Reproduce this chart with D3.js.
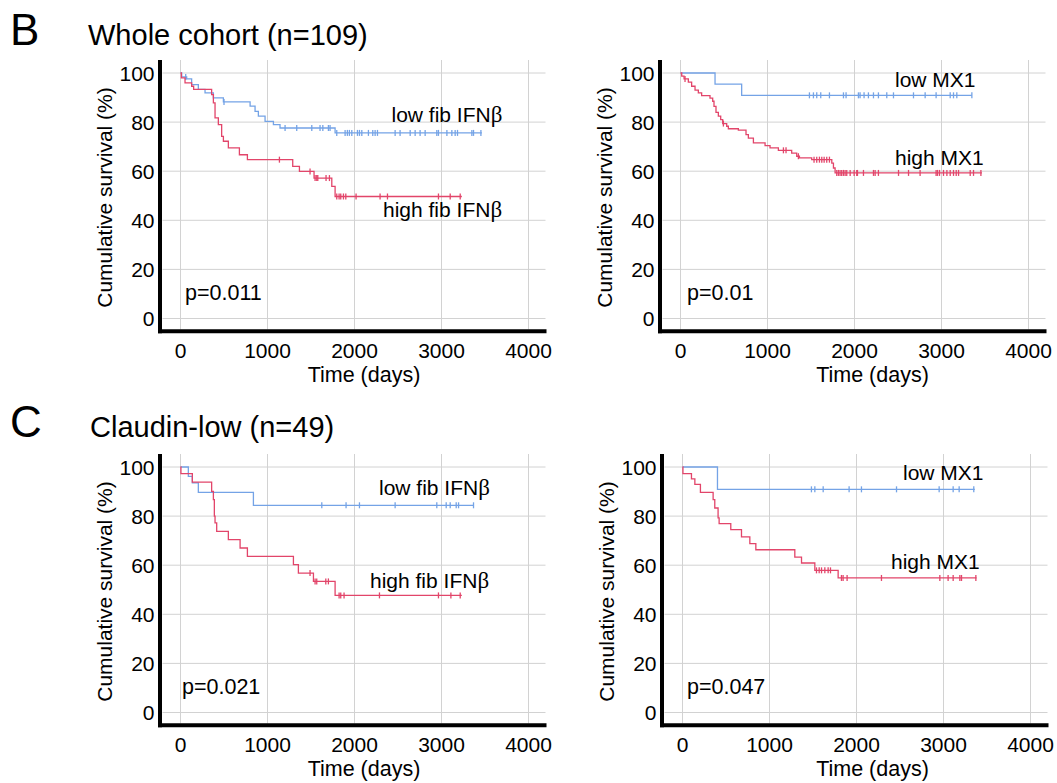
<!DOCTYPE html>
<html>
<head>
<meta charset="utf-8">
<script src="https://cdn.jsdelivr.net/npm/d3@7"></script>
<style>
  body { margin: 0; background: #fff; }
  svg { display: block; font-family: Arial, "Liberation Sans", sans-serif; }
</style>
</head>
<body>
<svg id="chart" width="1057" height="783"></svg>
<script>
// axis ticks
const xTicks = [0, 1000, 2000, 3000, 4000];
const yTicks = [0, 20, 40, 60, 80, 100];

// B, whole cohort, fibroblast IFNb
const lowFibT = [14, 71, 128, 205, 282, 378, 493, 800, 857, 895, 972, 1068, 1144, 1777];
const lowFibS = [98.4, 97.6, 95.3, 93.3, 91.9, 89.9, 88.2, 86.5, 84.4, 82.4, 80.3, 79.0, 77.6, 75.6];
const lowFibEnd = 3464;
const lowFibCens = [60, 500, 1202, 1336, 1509, 1604, 1636, 1700, 1719, 1796, 1892, 1918, 1941, 1969, 2034, 2057, 2084, 2160, 2210, 2237, 2264, 2467, 2524, 2640, 2697, 2754, 2812, 2946, 2965, 3062, 3119, 3157, 3184, 3349, 3368, 3453];

const highFibT = [10, 52, 128, 151, 358, 378, 397, 435, 473, 493, 550, 677, 769, 1290, 1367, 1535, 1739, 1777];
const highFibS = [98, 96, 94.6, 93.3, 91.2, 87.8, 81.7, 79.0, 74.2, 72.2, 69.5, 66.7, 64.7, 62.0, 59.9, 57.2, 53.8, 49.7];
const highFibEnd = 3234;
const highFibCens = [1137, 1489, 1547, 1566, 1578, 1673, 1712, 1796, 1823, 1842, 1873, 1900, 2018, 2294, 2379, 2965, 3100, 3215];

// B, whole cohort, MX1
const lowMxT = [397, 703];
const lowMxS = [95.5, 90.9];
const lowMxEnd = 3349;
const lowMxCens = [1482, 1528, 1566, 1612, 1712, 1873, 1903, 2045, 2064, 2110, 2160, 2218, 2275, 2371, 2448, 2678, 2812, 2938, 3100, 3138, 3176, 3349];

const highMxT = [14, 41, 90, 128, 167, 205, 243, 339, 370, 385, 408, 435, 462, 485, 531, 550, 665, 753, 780, 838, 972, 1029, 1125, 1278, 1336, 1367, 1508, 1739, 1758, 1777];
const highMxS = [98.7, 97.6, 96.3, 94.6, 93.0, 91.9, 90.8, 89.8, 88.5, 86.4, 84.0, 82.4, 81.0, 79.4, 78.3, 77.3, 76.7, 74.9, 73.5, 71.5, 70.4, 69.5, 68.5, 67.4, 66.1, 65.4, 64.7, 63.3, 61.3, 59.3];
const highMxEnd = 3464;
const highMxCens = [52, 493, 1183, 1213, 1355, 1535, 1566, 1597, 1624, 1651, 1681, 1712, 1796, 1815, 1834, 1853, 1873, 1892, 1911, 1950, 1996, 2026, 2034, 2103, 2218, 2237, 2275, 2506, 2621, 2754, 2938, 2954, 2977, 3023, 3062, 3100, 3138, 3169, 3196, 3330, 3368, 3453];

// C, claudin-low, fibroblast IFNb
const cLowFibT = [90, 136, 205, 838];
const cLowFibS = [96.2, 93.5, 89.7, 84.4];
const cLowFibEnd = 3368;
const cLowFibCens = [1624, 1903, 2057, 2467, 2946, 3054, 3100, 3169, 3196, 3368];

const cHighFibT = [5, 136, 358, 378, 389, 397, 416, 550, 685, 769, 1298, 1355, 1528, 1777];
const cHighFibS = [97.3, 93.8, 90.1, 86.7, 80.0, 77.2, 73.8, 70.4, 67.0, 63.6, 60.2, 56.8, 53.4, 47.7];
const cHighFibEnd = 3234;
const cHighFibCens = [1489, 1547, 1566, 1670, 1700, 1823, 1842, 1880, 2287, 2965, 3108, 3215];

// C, claudin-low, MX1
const cLowMxT = [402];
const cLowMxS = [90.9];
const cLowMxEnd = 3360;
const cLowMxCens = [1482, 1521, 1617, 1915, 2057, 2460, 2950, 3111, 3180, 3348];

const cHighMxT = [5, 103, 142, 206, 352, 371, 409, 421, 555, 678, 774, 843, 1291, 1368, 1521, 1789];
const cHighMxS = [97.3, 95.2, 92.9, 89.7, 86.7, 83.3, 79.3, 76.9, 74.5, 71.5, 68.8, 66.3, 63.3, 60.9, 57.9, 54.8];
const cHighMxEnd = 3380;
const cHighMxCens = [1540, 1571, 1598, 1636, 1674, 1701, 1827, 1846, 1892, 2287, 2958, 3053, 3111, 3188, 3207, 3372];

const blue = "#74a3e6";
const red = "#e2456a";
const fs = 21;

const svg = d3.select("#chart");

// panel layout: ox/oy = pixel position of (0 days, 0 %)
const panels = [
  { ox: 180.5, oy: 318.5, p: "p=0.011", pdx: 4.5, xlab: 183.5,
    curves: [
      { t: lowFibT, s: lowFibS, end: lowFibEnd, cens: lowFibCens, color: blue, label: ["low fib IFN", "β"], dx: 211, dy: -197 },
      { t: highFibT, s: highFibS, end: highFibEnd, cens: highFibCens, color: red, label: ["high fib IFN", "β"], dx: 202.5, dy: -102 }
    ] },
  { ox: 680.5, oy: 318.5, p: "p=0.01", pdx: 6.5, xlab: 192,
    curves: [
      { t: lowMxT, s: lowMxS, end: lowMxEnd, cens: lowMxCens, color: blue, label: ["low MX1", ""], dx: 214.5, dy: -231.5 },
      { t: highMxT, s: highMxS, end: highMxEnd, cens: highMxCens, color: red, label: ["high MX1", ""], dx: 214.5, dy: -153.5 }
    ] },
  { ox: 180.5, oy: 712.5, p: "p=0.021", pdx: 1.5, xlab: 183.5,
    curves: [
      { t: cLowFibT, s: cLowFibS, end: cLowFibEnd, cens: cLowFibCens, color: blue, label: ["low fib IFN", "β"], dx: 198.5, dy: -217.5 },
      { t: cHighFibT, s: cHighFibS, end: cHighFibEnd, cens: cHighFibCens, color: red, label: ["high fib IFN", "β"], dx: 189.5, dy: -124.5 }
    ] },
  { ox: 682.5, oy: 712.5, p: "p=0.047", pdx: 4.5, xlab: 190,
    curves: [
      { t: cLowMxT, s: cLowMxS, end: cLowMxEnd, cens: cLowMxCens, color: blue, label: ["low MX1", ""], dx: 220.5, dy: -232.5 },
      { t: cHighMxT, s: cHighMxS, end: cHighMxEnd, cens: cHighMxCens, color: red, label: ["high MX1", ""], dx: 208.5, dy: -143.5 }
    ] }
];

// section letters and titles
svg.append("text").attr("x", 10).attr("y", 45).attr("font-size", 44).text("B");
svg.append("text").attr("x", 88).attr("y", 45).attr("font-size", 29).text("Whole cohort (n=109)");
svg.append("text").attr("x", 10).attr("y", 437).attr("font-size", 44).text("C");
svg.append("text").attr("x", 90).attr("y", 437).attr("font-size", 29).text("Claudin-low (n=49)");

panels.forEach(pn => {
  const x = d3.scaleLinear().domain([0, 4000]).range([pn.ox, pn.ox + 348]);
  const y = d3.scaleLinear().domain([0, 100]).range([pn.oy, pn.oy - 245.5]);
  const g = svg.append("g");
  const top = y(100) - 13;

  // grid
  g.selectAll(".gx").data(xTicks).enter().append("line")
    .attr("x1", d => x(d)).attr("x2", d => x(d))
    .attr("y1", top).attr("y2", pn.oy + 11)
    .attr("stroke", "#d2d2d2").attr("stroke-width", 1);
  g.selectAll(".gy").data(yTicks).enter().append("line")
    .attr("x1", pn.ox - 18).attr("x2", pn.ox + 365)
    .attr("y1", d => y(d)).attr("y2", d => y(d))
    .attr("stroke", "#d2d2d2").attr("stroke-width", 1);

  // tick labels
  g.selectAll(".tx").data(xTicks).enter().append("text")
    .attr("x", d => x(d)).attr("y", pn.oy + 39.5)
    .attr("text-anchor", "middle").attr("font-size", fs)
    .text(d => d);
  g.selectAll(".ty").data(yTicks).enter().append("text")
    .attr("x", pn.ox - 26).attr("y", d => y(d) + 7.5)
    .attr("text-anchor", "end").attr("font-size", fs)
    .text(d => d);

  // axis titles
  g.append("text")
    .attr("transform", `translate(${pn.ox - 76},${pn.oy - 121}) rotate(-90)`)
    .attr("text-anchor", "middle").attr("dy", "0.35em").attr("font-size", fs)
    .text("Cumulative survival (%)");
  g.append("text")
    .attr("x", pn.ox + pn.xlab).attr("y", pn.oy + 63)
    .attr("text-anchor", "middle").attr("font-size", 21.5)
    .text("Time (days)");

  g.append("text")
    .attr("x", pn.ox + pn.pdx).attr("y", pn.oy - 19)
    .attr("font-size", 21.5)
    .text(pn.p);

  // survival curves
  const line = d3.line()
    .x(d => x(d[0])).y(d => y(d[1]))
    .curve(d3.curveStepAfter);

  pn.curves.forEach(c => {
    const pts = [[0, 100]];
    c.t.forEach((t, i) => pts.push([t, c.s[i]]));
    pts.push([c.end, c.s[c.s.length - 1]]);

    g.append("path")
      .attr("d", line(pts))
      .attr("fill", "none")
      .attr("stroke", c.color)
      .attr("stroke-width", 1.3);

    const survAt = t => {
      let v = 100;
      c.t.forEach((tt, i) => { if (tt <= t) v = c.s[i]; });
      return v;
    };

    g.selectAll(null).data(c.cens).enter().append("line")
      .attr("x1", d => x(d)).attr("x2", d => x(d))
      .attr("y1", d => y(survAt(d)) - 3).attr("y2", d => y(survAt(d)) + 3)
      .attr("stroke", c.color).attr("stroke-width", 1.3);

    const lab = g.append("text")
      .attr("x", pn.ox + c.dx).attr("y", pn.oy + c.dy)
      .attr("font-size", fs)
      .text(c.label[0]);
    if (c.label[1]) {
      lab.append("tspan")
        .attr("font-family", "'Liberation Serif', 'Times New Roman', serif")
        .attr("font-size", 23)
        .text(c.label[1]);
    }
  });

  // thick axes
  g.append("line")
    .attr("x1", pn.ox - 20.5).attr("x2", pn.ox - 20.5)
    .attr("y1", top).attr("y2", pn.oy + 14.8)
    .attr("stroke", "#000").attr("stroke-width", 4);
  g.append("line")
    .attr("x1", pn.ox - 22.5).attr("x2", pn.ox + 366)
    .attr("y1", pn.oy + 12.8).attr("y2", pn.oy + 12.8)
    .attr("stroke", "#000").attr("stroke-width", 4);
});
</script>
</body>
</html>
